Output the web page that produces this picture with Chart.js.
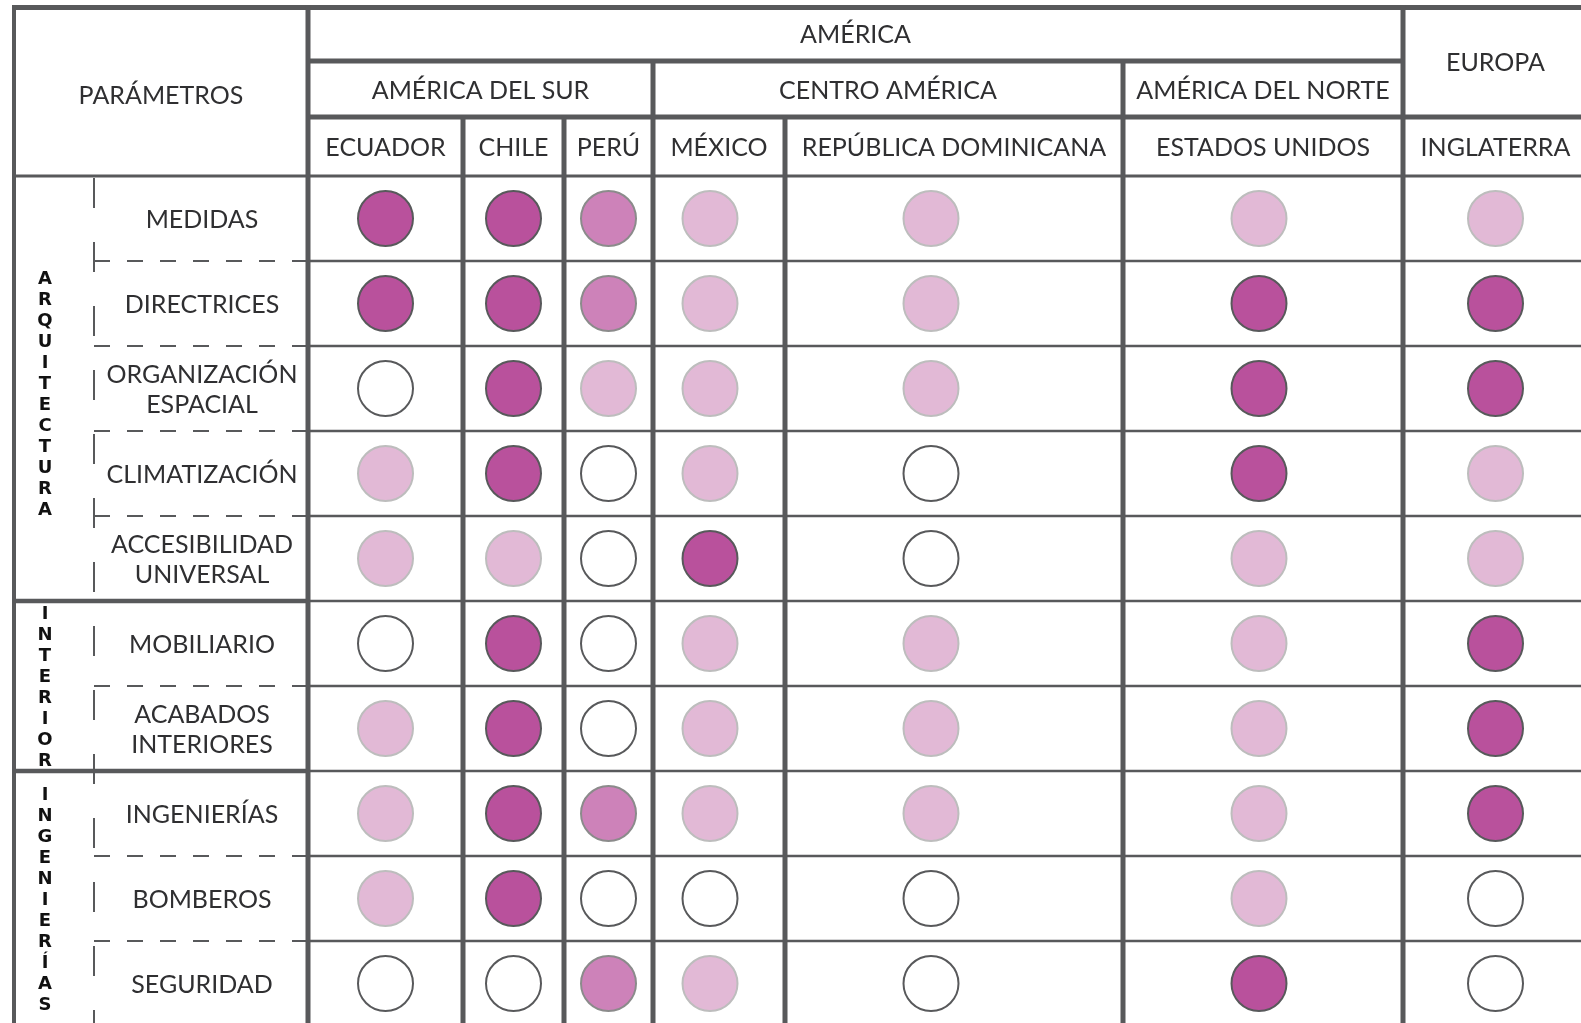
<!DOCTYPE html>
<html>
<head>
<meta charset="utf-8">
<title>Parámetros por país</title>
<script src="https://cdn.jsdelivr.net/npm/chart.js@4/dist/chart.umd.min.js"></script>
<style>
  html, body { margin: 0; padding: 0; background: #fff; overflow: hidden; }
  #frame { position: relative; width: 1581px; height: 1023px; overflow: hidden; }
  #matrix_chart { position: absolute; left: 0; top: 0; }
</style>
</head>
<body>
<div id="frame"><canvas id="matrix_chart" width="1600" height="1040"></canvas></div>
<script>
// DATA
const regions = ["AMÉRICA", "EUROPA"];
const regionSpans = [6, 1];
const subregions = ["AMÉRICA DEL SUR", "CENTRO AMÉRICA", "AMÉRICA DEL NORTE"];
const subregionSpans = [3, 2, 1];
const countries = ["ECUADOR", "CHILE", "PERÚ", "MÉXICO", "REPÚBLICA DOMINICANA", "ESTADOS UNIDOS", "INGLATERRA"];

const groups = ["ARQUITECTURA", "INTERIOR", "INGENIERÍAS"];
const groupSizes = [5, 2, 3];
const parameters = [
  ["MEDIDAS"], ["DIRECTRICES"], ["ORGANIZACIÓN", "ESPACIAL"], ["CLIMATIZACIÓN"], ["ACCESIBILIDAD", "UNIVERSAL"],
  ["MOBILIARIO"], ["ACABADOS", "INTERIORES"],
  ["INGENIERÍAS"], ["BOMBEROS"], ["SEGURIDAD"]
];

// level of each parameter per country: 0 none, 1 low, 2 medium, 3 high
const levels = ["Ninguno", "Bajo", "Medio", "Alto"];
const ecuador    = [3, 3, 0, 1, 1, 0, 1, 1, 1, 0];
const chile      = [3, 3, 3, 3, 1, 3, 3, 3, 3, 0];
const peru       = [2, 2, 1, 0, 0, 0, 0, 2, 0, 2];
const mexico     = [1, 1, 1, 1, 3, 1, 1, 1, 0, 1];
const dominicana = [1, 1, 1, 0, 0, 1, 1, 1, 0, 0];
const eeuu       = [1, 3, 3, 3, 1, 1, 1, 1, 1, 3];
const inglaterra = [1, 3, 3, 1, 1, 3, 3, 3, 0, 0];
const table = [ecuador, chile, peru, mexico, dominicana, eeuu, inglaterra];

// LAYOUT / STYLE
const colWidths = [155, 101, 89, 132, 338, 280, 185];
const markShift = [0, 0, 0, -9, -23, -4, 0]; // circles sit a little left in some columns
const headerLines = [7.5, 61, 117];
const leftBorder = 14;
const paramsLine = 94;
const lineColor = "#58595b";
const textColor = "#2f2f31";
const levelFill = ["#ffffff", "#e2b9d6", "#cd82b9", "#b9519c"];
const levelBorder = ["#58595b", "#bdbdbd", "#8b8b8b", "#58595b"];
const font = "25px Lato";
const groupFont = "bold 18px 'DejaVu Sans'";

const edges = [0];
colWidths.forEach(w => edges.push(edges[edges.length - 1] + w));
const colCenters = colWidths.map((w, i) => edges[i] + w / 2 + markShift[i]);
const rowLabels = parameters.map(p => p.join(" "));

// BUILD DATASETS
const datasets = levels.map((name, lvl) => ({
  label: name,
  data: [],
  pointRadius: 27.5,
  pointBorderWidth: 2,
  pointBackgroundColor: levelFill[lvl],
  pointBorderColor: levelBorder[lvl],
}));
table.forEach((col, c) => {
  col.forEach((lvl, r) => {
    datasets[lvl].data.push({ x: colCenters[c], y: rowLabels[r] });
  });
});

function drawText(c, text, cx, cy, f) {
  c.font = f || font;
  c.fillStyle = textColor;
  c.textAlign = "center";
  c.textBaseline = "alphabetic";
  const h = c.measureText("H").actualBoundingBoxAscent;
  c.fillText(text, cx, cy + h / 2);
}

function line(c, x1, y1, x2, y2, w, dash) {
  c.beginPath();
  c.lineWidth = w;
  c.strokeStyle = lineColor;
  c.setLineDash(dash || []);
  c.moveTo(x1, y1);
  c.lineTo(x2, y2);
  c.stroke();
  c.setLineDash([]);
}

// TABLE PLUGIN
const tablePlugin = {
  id: "tableGrid",
  beforeDatasetsDraw(chart) {
    const c = chart.ctx;
    const area = chart.chartArea;
    const x = chart.scales.x, y = chart.scales.y;
    const ex = edges.map(e => x.getPixelForValue(e));
    const last = ex.length - 1;
    const rowH = area.height / parameters.length;
    const rowTop = r => y.getPixelForValue(r) - rowH / 2;

    c.save();
    c.lineCap = "butt";

    // row lines
    let groupEnds = [];
    groupSizes.reduce((a, s) => { groupEnds.push(a + s); return a + s; }, 0);
    for (let r = 1; r < parameters.length; r++) {
      const yy = rowTop(r);
      line(c, ex[0], yy, ex[last] + 3, yy, 2.5);
      if (groupEnds.includes(r)) {
        line(c, leftBorder - 2, yy, ex[0], yy, 4.5);
      } else {
        line(c, paramsLine, yy, ex[0], yy, 2, [16, 17]);
      }
    }
    line(c, paramsLine, area.top + 2, paramsLine, area.bottom, 2, [30, 34]);

    // header lines
    line(c, leftBorder - 2, headerLines[0], ex[last] + 3, headerLines[0], 5);
    const subEnd = subregionSpans.reduce((a, b) => a + b, 0);
    line(c, ex[0], headerLines[1], ex[subEnd] + 2, headerLines[1], 5);
    line(c, ex[0], headerLines[2], ex[last] + 3, headerLines[2], 5);
    line(c, leftBorder - 2, area.top, ex[last] + 3, area.top, 3);

    // vertical lines
    const regionEdges = [0], subEdges = [0];
    regionSpans.forEach(s => regionEdges.push(regionEdges[regionEdges.length - 1] + s));
    subregionSpans.forEach(s => subEdges.push(subEdges[subEdges.length - 1] + s));
    ex.forEach((px, i) => {
      let top = headerLines[2];
      if (regionEdges.includes(i)) top = headerLines[0] - 2.5;
      else if (subEdges.includes(i)) top = headerLines[1];
      line(c, px, top, px, area.bottom + 3, 5);
    });
    line(c, leftBorder, headerLines[0] - 2.5, leftBorder, area.bottom + 3, 4);

    // header texts
    drawText(c, "PARÁMETROS", (leftBorder + ex[0]) / 2, (headerLines[0] + area.top) / 2 + 3);
    regions.forEach((name, i) => {
      const a = regionEdges[i], b = regionEdges[i + 1];
      const cx = (ex[a] + ex[b]) / 2;
      const bottom = b <= subEnd ? headerLines[1] : headerLines[2];
      drawText(c, name, cx, (headerLines[0] + bottom) / 2);
    });
    subregions.forEach((name, i) => {
      const cx = (ex[subEdges[i]] + ex[subEdges[i + 1]]) / 2;
      drawText(c, name, cx, (headerLines[1] + headerLines[2]) / 2 + 1);
    });
    countries.forEach((name, i) => {
      drawText(c, name, (ex[i] + ex[i + 1]) / 2, (headerLines[2] + area.top) / 2);
    });

    // parameter labels
    const labelX = (paramsLine + ex[0]) / 2 + 1;
    parameters.forEach((lines, r) => {
      const cy = y.getPixelForValue(r);
      lines.forEach((t, k) => drawText(c, t, labelX, cy + (k - (lines.length - 1) / 2) * 30));
    });

    // group labels (stacked letters)
    let start = 0;
    groups.forEach((g, i) => {
      const top = rowTop(start);
      const bottom = rowTop(start + groupSizes[i]);
      const mid = (top + bottom) / 2 + (i === 0 ? 6 : 2);
      const letters = Array.from(g);
      letters.forEach((ch, k) => {
        c.font = groupFont;
        c.fillStyle = "#111111";
        c.textAlign = "center";
        c.textBaseline = "middle";
        c.fillText(ch, 45, mid + (k - (letters.length - 1) / 2) * 21);
      });
      start += groupSizes[i];
    });

    c.restore();
  }
};

// CHART
const totalWidth = edges[edges.length - 1];
const my_chart = new Chart(document.getElementById("matrix_chart").getContext("2d"), {
  type: "scatter",
  data: { datasets: datasets },
  options: {
    responsive: false,
    devicePixelRatio: 1,
    animation: false,
    events: [],
    // the canvas is a bit bigger than the frame: the table runs past the right and bottom edges
    layout: {
      autoPadding: false,
      padding: { left: 308, top: 176, right: 1600 - 308 - totalWidth, bottom: 1040 - 176 - 850 }
    },
    plugins: { legend: { display: false }, tooltip: { enabled: false } },
    scales: {
      x: { type: "linear", min: 0, max: totalWidth, display: false },
      y: { type: "category", labels: rowLabels, offset: true, display: false }
    }
  },
  plugins: [tablePlugin]
});
</script>
</body>
</html>
